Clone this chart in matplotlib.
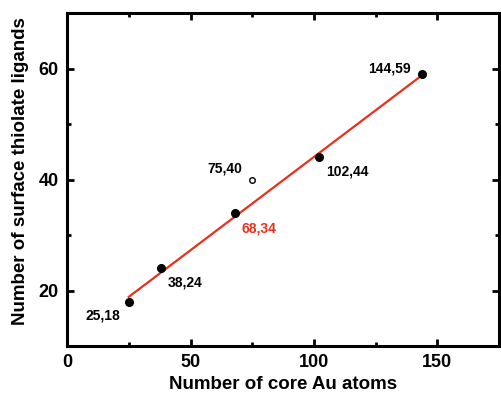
import numpy as np
import matplotlib
matplotlib.use("Agg")
import matplotlib.pyplot as plt
from matplotlib.ticker import MultipleLocator

plt.rcParams['font.family'] = ['Liberation Sans', 'DejaVu Sans']
plt.rcParams['font.weight'] = 'bold'

x_filled = [25, 38, 68, 102, 144]
y_filled = [18, 24, 34, 44, 59]
x_open = [75]
y_open = [40]
labels_filled = ["25,18", "38,24", "68,34", "102,44", "144,59"]
labels_open = ["75,40"]

fig = plt.figure(figsize=(5.01, 3.95), dpi=100)
ax = fig.add_axes([0.134, 0.124, 0.862, 0.843])

coef = np.polyfit(x_filled, y_filled, 1)
xf = np.array([min(x_filled), max(x_filled)])
ax.plot(xf, np.polyval(coef, xf), color='#e8301c', lw=1.6, zorder=2)

ax.plot(x_filled, y_filled, 'o', color='black', ms=5.5, zorder=3)
ax.plot(x_open, y_open, 'o', mfc='white', mec='black', mew=1.0, ms=4, zorder=3)

offsets = {"25,18": (-31, -13), "38,24": (5, -13), "68,34": (5, -14),
           "102,44": (5, -13), "144,59": (-39, 1), "75,40": (-32, 5)}
for xv, yv, lab in zip(x_filled, y_filled, labels_filled):
    col = '#e8301c' if lab == "68,34" else 'black'
    ax.annotate(lab, (xv, yv), xytext=offsets[lab], textcoords='offset points',
                fontsize=10, fontweight='bold', color=col)
for xv, yv, lab in zip(x_open, y_open, labels_open):
    ax.annotate(lab, (xv, yv), xytext=offsets[lab], textcoords='offset points',
                fontsize=10, fontweight='bold', color='black')

ax.set_xlim(0, 175)
ax.set_ylim(10, 70)
ax.xaxis.set_major_locator(MultipleLocator(50))
ax.xaxis.set_minor_locator(MultipleLocator(25))
ax.yaxis.set_major_locator(MultipleLocator(20))
ax.yaxis.set_minor_locator(MultipleLocator(10))
ax.tick_params(which='both', direction='in', top=True, right=True, width=2)
ax.tick_params(which='major', length=5, labelsize=13, pad=6)
ax.tick_params(which='minor', length=3)
for lab in ax.get_xticklabels() + ax.get_yticklabels():
    lab.set_fontweight('bold')
for s in ax.spines.values():
    s.set_linewidth(2.2)

ax.set_xlabel("Number of core Au atoms", fontsize=13.5, fontweight='bold', labelpad=3)
ax.set_ylabel("Number of surface thiolate ligands", fontsize=13.5, fontweight='bold')
ax.yaxis.set_label_coords(-0.088, 0.525)

fig.savefig("out.png", dpi=100)
